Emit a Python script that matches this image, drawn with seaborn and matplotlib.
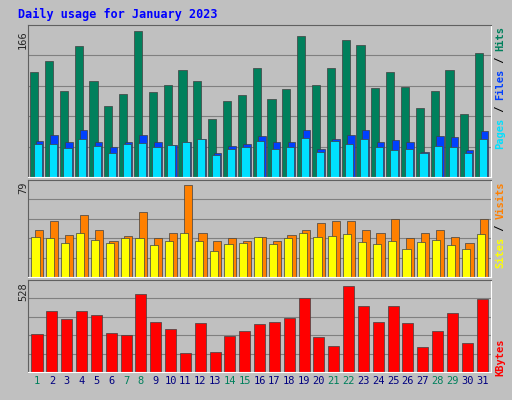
import matplotlib
matplotlib.use("Agg")
import matplotlib.pyplot as plt
import seaborn as sns
import numpy as np

days = list(range(1, 32))
weekend = [1, 7, 8, 14, 15, 21, 22, 28, 29]
hits = [119,132,98,149,109,81,94,166,97,105,122,109,66,86,93,124,89,100,161,105,124,156,150,101,119,103,78,98,122,72,141]
files = [41,48,40,53,40,34,40,48,40,36,40,43,27,35,38,47,40,40,53,32,43,48,53,40,42,40,28,47,45,31,52]
pages = [38,38,33,43,35,27,38,39,34,36,40,43,25,32,34,41,32,34,44,28,41,38,43,34,31,32,27,35,34,27,43]
visits = [40,48,36,53,40,31,35,56,33,38,79,38,31,33,31,34,31,36,40,46,48,48,40,38,50,33,38,40,34,29,50]
sites = [34,33,29,38,32,29,33,33,27,31,38,31,22,28,29,34,28,33,38,34,35,37,30,28,31,24,30,32,27,24,37]
kbytes = [233,375,326,375,350,240,227,479,307,264,117,301,123,221,252,295,307,332,454,215,160,528,405,307,405,301,154,252,362,178,448]

sns.set_style("white")
plt.rcParams['font.family'] = ['DejaVu Sans Mono']
bg = "#C0C0C0"
fig = plt.figure(figsize=(5.12, 4.0), dpi=100, facecolor=bg)
x = np.array(days)

def panel(rect, ymax):
    ax = fig.add_axes(rect, facecolor=bg)
    ax.set_xlim(0.4, 31.6)
    ax.set_ylim(0, ymax)
    ax.set_yticks([])
    ax.set_xticks([])
    for yv in np.linspace(0, ymax, 6)[1:-1]:
        ax.axhline(yv, color="#808080", lw=0.8, zorder=0)
    for s in ["top", "left"]:
        ax.spines[s].set_color("#606060")
    for s in ["bottom", "right"]:
        ax.spines[s].set_color("#FFFFFF")
    return ax

kw = dict(edgecolor="#404040", linewidth=0.5, zorder=2)
ax1 = panel([0.055, 0.5575, 0.904, 0.38], 173)
ax1.bar(x - 0.2, hits, width=0.55, color="#00805C", **kw)
ax1.bar(x + 0.15, files, width=0.5, color="#0040FF", **kw)
ax1.bar(x + 0.05, pages, width=0.55, color="#00E0FF", **kw)

ax2 = panel([0.055, 0.3075, 0.904, 0.2425], 83)
ax2.bar(x + 0.15, visits, width=0.55, color="#FF8000", **kw)
ax2.bar(x - 0.1, sites, width=0.55, color="#FFFF00", **kw)

ax3 = panel([0.055, 0.07, 0.904, 0.23], 565)
ax3.bar(x, kbytes, width=0.75, color="#FF0000", **kw)
ax3.set_xticks(x)
ax3.set_xticklabels([str(d) for d in days], fontsize=7.5)
ax3.tick_params(axis="x", length=0, pad=3)
for lab, d in zip(ax3.get_xticklabels(), days):
    lab.set_color("#00805C" if d in weekend else "#000080")

fig.text(0.035, 0.965, "Daily usage for January 2023", color="#0000FF",
         fontsize=8.5, fontweight="bold", va="center")
fs = 7.5
fig.text(0.045, 0.925, "166", rotation=90, fontsize=fs, ha="center", va="top")
fig.text(0.045, 0.545, "79", rotation=90, fontsize=fs, ha="center", va="top")
fig.text(0.045, 0.295, "528", rotation=90, fontsize=fs, ha="center", va="top")

def rlabel(parts, ytop):
    y = ytop
    step = 0.0153
    for txt, col in parts:
        fig.text(0.977, y, txt, rotation=90, fontsize=fs, fontweight="bold",
                 color=col, ha="center", va="top")
        y -= len(txt) * step
rlabel([("Hits", "#00805C"), (" / ", "#000000"), ("Files", "#0040FF"),
        (" / ", "#000000"), ("Pages", "#00E0FF")], 0.935)
rlabel([("Visits", "#FF8000"), (" / ", "#000000"), ("Sites", "#FFFF00")], 0.545)
rlabel([("KBytes", "#FF0000")], 0.155)

fig.savefig("out.png", dpi=100, facecolor=bg)
